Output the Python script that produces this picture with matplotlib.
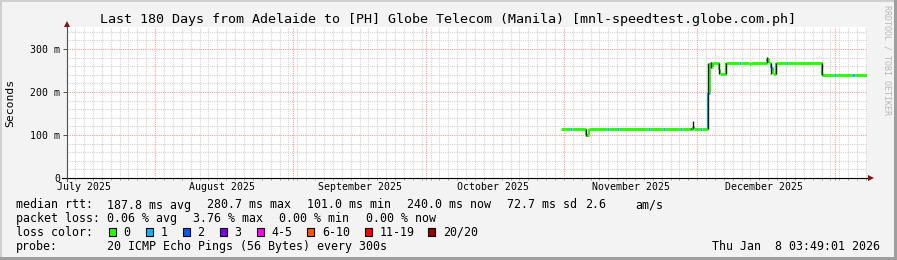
import matplotlib
matplotlib.use("Agg")
import matplotlib.pyplot as plt
import matplotlib.dates as mdates
from matplotlib.lines import Line2D
from matplotlib.patches import Rectangle
from datetime import datetime, timedelta

plt.rcParams['font.family'] = ['DejaVu Sans Mono']

# ---------------- data ----------------
title = "Last 180 Days from Adelaide to [PH] Globe Telecom (Manila) [mnl-speedtest.globe.com.ph]"
range_start = "2025-07-12 03:49:01"
range_end = "2026-01-08 03:49:01"

# median RTT (ms), step series: value holds from time[i] to time[i+1]
median_times = [
    "2025-10-31 07:00", "2025-11-02 10:00", "2025-11-02 20:00", "2025-11-06 00:00",
    "2025-11-06 17:00", "2025-11-10 15:00", "2025-11-11 03:00", "2025-11-12 21:00",
    "2025-11-13 09:00", "2025-11-19 21:00", "2025-11-20 09:00", "2025-11-23 07:00",
    "2025-11-23 19:00", "2025-11-27 02:00", "2025-11-27 14:00", "2025-11-30 00:00",
    "2025-11-30 08:00", "2025-12-01 14:00", "2025-12-02 02:00", "2025-12-03 12:00",
    "2025-12-04 00:00", "2025-12-04 06:00", "2025-12-04 14:00", "2025-12-05 23:00",
    "2025-12-06 02:00", "2025-12-07 14:00", "2025-12-10 10:00", "2025-12-10 22:00",
    "2025-12-12 17:00", "2025-12-13 05:00", "2025-12-16 17:00", "2025-12-17 05:00",
    "2025-12-17 17:00", "2025-12-18 02:00", "2025-12-18 18:00", "2025-12-21 00:00",
    "2025-12-21 12:00", "2025-12-29 02:00", "2025-12-31 19:00", "2026-01-01 07:00",
    "2026-01-04 22:00", "2026-01-05 10:00", "2026-01-08 03:00",
]
median_values = [
    113, 113, 113, 101,
    113, 113, 113, 113,
    113, 113, 113, 113,
    113, 113, 113, 119,
    113, 113, 113, 197,
    267, 259, 268, 251,
    241, 268, 268, 268,
    265, 268, 278, 268,
    255, 241, 268, 268,
    268, 240, 240, 240,
    240, 240, 240,
]
median_loss = [
    0, 1, 0, 0,
    0, 1, 0, 1,
    0, 1, 0, 1,
    0, 1, 0, 0,
    0, 1, 0, 1,
    0, 0, 0, 0,
    0, 0, 1, 0,
    0, 0, 0, 0,
    1, 0, 0, 1,
    0, 0, 1, 0,
    1, 0, 0,
]

# smoke (spread of pings) visible as dark vertical strokes
smoke_times = ["2025-11-06 00:00", "2025-11-29 12:00", "2025-11-30 03:00", "2025-12-03 11:00",
               "2025-12-04 04:00", "2025-12-05 23:00", "2025-12-07 14:00", "2025-12-16 17:00",
               "2025-12-17 16:00", "2025-12-18 17:00", "2025-12-29 02:00"]
smoke_lo = [98, 113, 113, 113, 255, 241, 241, 268, 241, 241, 240]
smoke_hi = [113, 116, 132, 268, 270, 268, 268, 282, 268, 268, 268]

y_ticks = [0, 100, 200, 300]
y_tick_labels = ["0", "100 m", "200 m", "300 m"]
month_labels = ["July 2025", "August 2025", "September 2025", "October 2025",
                "November 2025", "December 2025"]
month_label_dates = ["2025-07-16", "2025-08-16", "2025-09-16", "2025-10-16",
                     "2025-11-16", "2025-12-16"]
month_starts = ["2025-08-01", "2025-09-01", "2025-10-01", "2025-11-01",
                "2025-12-01", "2026-01-01"]

loss_labels = ["0", "1", "2", "3", "4-5", "6-10", "11-19", "20/20"]
loss_colors = ["#26ff00", "#00b8ff", "#0059ff", "#7e00ff", "#ff00ff", "#ff5500",
               "#ff0000", "#a10000"]

rtt_fields = ["187.8 ms avg", "280.7 ms max", "101.0 ms min", "240.0 ms now",
              "72.7 ms sd", "2.6", "am/s"]
loss_fields = ["0.06 % avg", "3.76 % max", "0.00 % min", "0.00 % now"]
probe_text = "20 ICMP Echo Pings (56 Bytes) every 300s"
stamp_text = "Thu Jan  8 03:49:01 2026"

# ---------------- figure ----------------
W, H = 897, 260
fig = plt.figure(figsize=(W / 100, H / 100), dpi=100, facecolor="#f3f3f3")


def fx(px):
    return px / W


def fy(py):
    return 1 - py / H


P = lambda s: datetime.fromisoformat(s)

L, R, T, B = 67, 866.7, 26.7, 178
ax = fig.add_axes([fx(L), fy(B), fx(R) - fx(L), fy(T) - fy(B)])
ax.set_facecolor("white")
t0, t1 = P(range_start), P(range_end)
ax.set_xlim(t0, t1)
ax.set_ylim(0, 352)
for s in ax.spines.values():
    s.set_visible(False)

dot = (0, (1, 1))
# grid: minor vertical every 2 days
minor_x = []
d = P("2025-08-01")
while d > t0:
    d -= timedelta(days=2)
d += timedelta(days=2)
ms = set(P(m) for m in month_starts)
while d < t1:
    if d not in ms:
        minor_x.append(d)
    d += timedelta(days=2)
for d in minor_x:
    ax.axvline(d, color="#d2d2d2", lw=0.8, ls=dot, zorder=1)
for m in month_starts:
    ax.axvline(P(m), color="#f0a0a0", lw=0.8, ls=dot, zorder=1.5)
for v in range(20, 352, 20):
    if v % 100:
        ax.axhline(v, color="#d2d2d2", lw=0.8, ls=dot, zorder=1)
for v in y_ticks[1:]:
    ax.axhline(v, color="#f0a0a0", lw=0.8, ls=dot, zorder=1.5)

# median line, coloured by loss
mt = [P(s) for s in median_times]
ax.hlines(median_values[:-1], mt[:-1], mt[1:],
          colors=[loss_colors[k] for k in median_loss[:-1]], lw=2.1, zorder=3)
for i in range(1, len(mt) - 1):
    ax.vlines(mt[i], min(median_values[i - 1], median_values[i]),
              max(median_values[i - 1], median_values[i]),
              colors=loss_colors[median_loss[i]], lw=1.4, zorder=2.5)
ax.vlines([P(s) for s in smoke_times], smoke_lo, smoke_hi, colors="#1a1a1a",
          lw=1.0, zorder=4)

# ticks
ax.set_yticks(y_ticks, labels=y_tick_labels)
ax.tick_params(axis="y", which="major", length=3, width=0.7, color="#505050",
               pad=2, labelsize=7.1)
ax.set_xticks([P(s) for s in month_label_dates], labels=month_labels)
ax.tick_params(axis="x", which="major", length=0, pad=3.2, labelsize=7.1)
ax.set_xticks(minor_x + [P(m) for m in month_starts], minor=True)
ax.tick_params(axis="x", which="minor", length=1.5, width=0.7, color="#a0a0a0")

# axis lines with arrows
fig.add_artist(Line2D([fx(62), fx(869)], [fy(178), fy(178)], color="black", lw=0.8))
fig.add_artist(Line2D([fx(67), fx(67)], [fy(181), fy(25)], color="#505050", lw=0.8))
fig.add_artist(Line2D([fx(871)], [fy(178)], marker=">", markersize=4.5,
                      color="#8b1010", mew=0))
fig.add_artist(Line2D([fx(67)], [fy(23.5)], marker="^", markersize=4.5,
                      color="#8b1010", mew=0))

# titles
fig.text(fx(448), fy(19.3), title, ha="center", va="center", fontsize=9.6)
fig.text(fx(10.7), fy(103), "Seconds", ha="center", va="center", rotation=90,
         fontsize=8.2)
fig.text(fx(887), fy(60), "RRDTOOL / TOBI OETIKER", ha="center", va="center",
         rotation=270, fontsize=6, color="#b8b8b8")

# legend
fs = 8.4
y1, y2, y3, y4 = 205, 218.3, 232.3, 246.3
fig.text(fx(16), fy(y1), "median rtt:", va="center", fontsize=fs)
for xp, s in zip([107.3, 207.3, 307.3, 407.3, 506.7, 585, 635], rtt_fields):
    fig.text(fx(xp), fy(y1), s, va="center", fontsize=fs)
fig.text(fx(16), fy(y2), "packet loss:", va="center", fontsize=fs)
for xp, s in zip([107.3, 192.7, 279.3, 365.7], loss_fields):
    fig.text(fx(xp), fy(y2), s, va="center", fontsize=fs)
fig.text(fx(16), fy(y3), "loss color:", va="center", fontsize=fs)
sq_x = [108.7, 145.7, 182.7, 219.7, 256.7, 307.3, 365.3, 428.3]
for xp, c, lab in zip(sq_x, loss_colors, loss_labels):
    fig.add_artist(Rectangle((fx(xp), fy(236.3)), 7 / W, 8 / H,
                             transform=fig.transFigure, facecolor=c,
                             edgecolor="black", lw=0.8))
    fig.text(fx(xp + 14.7), fy(y3), lab, va="center", fontsize=fs)
fig.text(fx(16), fy(y4), "probe:", va="center", fontsize=fs)
fig.text(fx(107.3), fy(y4), probe_text, va="center", fontsize=fs)
fig.text(fx(880), fy(y4), stamp_text, ha="right", va="center", fontsize=fs)

# 3D-ish frame
fig.add_artist(Rectangle((0, fy(2)), 1, 2 / H, transform=fig.transFigure,
                         color="#cfcfcf", lw=0))
fig.add_artist(Rectangle((0, 0), 2 / W, 1, transform=fig.transFigure,
                         color="#cfcfcf", lw=0))
fig.add_artist(Rectangle((0, 0), 1, 3 / H, transform=fig.transFigure,
                         color="#9e9e9e", lw=0))
fig.add_artist(Rectangle((fx(894), 0), 3 / W, 1, transform=fig.transFigure,
                         color="#9e9e9e", lw=0))

fig.savefig("out.png", dpi=100, facecolor=fig.get_facecolor())
